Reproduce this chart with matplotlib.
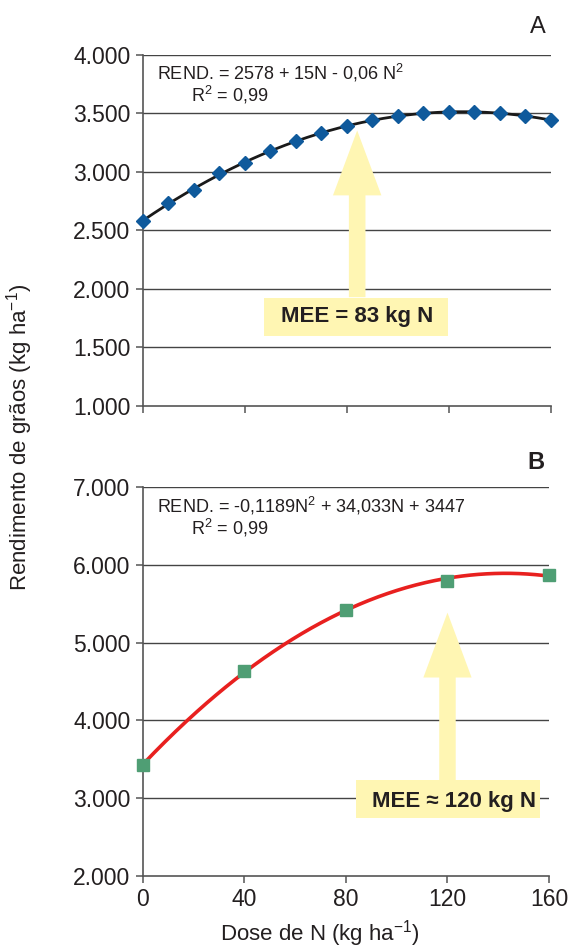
import numpy as np
import matplotlib
matplotlib.use("Agg")
import matplotlib.pyplot as plt
from matplotlib.patches import Polygon, Rectangle

plt.rcParams['font.family'] = ['Liberation Sans', 'DejaVu Sans']
plt.rcParams['mathtext.default'] = 'regular'

# panel A data (kg N / kg ha-1)
dose_a = [0, 10, 20, 30, 40, 50, 60, 70, 80, 90, 100, 110, 120, 130, 140, 150, 160]
rend_a = [2585, 2731, 2850, 2987, 3077, 3179, 3265, 3333, 3393, 3444, 3479, 3500, 3513, 3513, 3500, 3479, 3444]
# panel B data
dose_b = [0, 40, 80, 120, 160]
rend_b = [3423, 4641, 5423, 5795, 5870]
mee_a = 83
mee_b = 120
eq_a = "REND. = 2578 + 15N - 0,06 N$^{2}$"
eq_b = "REND. = -0,1189N$^{2}$ + 34,033N + 3447"
r2_txt = "R$^{2}$ = 0,99"
xticks = [0, 40, 80, 120, 160]

ink = '#231f20'
yellow = '#fff6b3'

fig = plt.figure(figsize=(5.69, 9.51), dpi=100)
ax1 = fig.add_axes([0.2513, 0.5731, 0.717, 0.3691])
ax2 = fig.add_axes([0.2513, 0.0789, 0.7135, 0.409])


def style(ax, ymin, ymax, step, labels):
    ax.set_xlim(0, 160)
    ax.set_ylim(ymin, ymax)
    yt = np.arange(ymin, ymax + 1, step)
    ax.set_yticks(yt)
    ax.set_yticklabels([f"{v:,}".replace(",", ".") for v in yt])
    ax.set_xticks(xticks)
    if labels:
        ax.set_xticklabels([str(v) for v in xticks])
    else:
        ax.set_xticklabels([])
    for s in ['top', 'right']:
        ax.spines[s].set_visible(False)
    for s in ['left', 'bottom']:
        ax.spines[s].set_color('#555555')
        ax.spines[s].set_linewidth(1.2)
    ax.tick_params(colors='#555555', labelcolor=ink, labelsize=16.5, length=5, width=1.1, pad=4)
    for v in yt[1:]:
        ax.axhline(v, color='#444444', lw=1.0, zorder=1)


def arrow(ax, x, tip, head_base, tail, head_w, shaft_w):
    pts = [(x - shaft_w / 2, tail), (x - shaft_w / 2, head_base), (x - head_w / 2, head_base),
           (x, tip), (x + head_w / 2, head_base), (x + shaft_w / 2, head_base), (x + shaft_w / 2, tail)]
    ax.add_patch(Polygon(pts, closed=True, facecolor=yellow, edgecolor='none', zorder=2))


# panel A
style(ax1, 1000, 4000, 500, False)
ca = np.polyfit(dose_a, rend_a, 2)
xx = np.linspace(0, 160, 300)
ax1.plot(xx, np.polyval(ca, xx), color='#1a1a1a', lw=2.0, zorder=3, clip_on=False)
ax1.plot(dose_a, rend_a, 'D', color='#0f5a9c', ms=7, zorder=4, clip_on=False)
arrow(ax1, mee_a + 1, 3355, 2800, 1930, 19, 6.5)
ax1.add_patch(Rectangle((47.5, 1600), 72, 327, facecolor=yellow, edgecolor='none', zorder=2))
ax1.text(mee_a + 1, 1765, "MEE = 83 kg N", ha='center', va='center', fontsize=16,
         fontweight='bold', color=ink, zorder=5)
ax1.text(5.5, 3850, eq_a, fontsize=13, color=ink, va='center')
ax1.text(19, 3660, r2_txt, fontsize=13, color=ink, va='center')
ax1.text(155, 4240, "A", fontsize=17, color=ink, ha='center', va='center')

# panel B
style(ax2, 2000, 7000, 1000, True)
cb = np.polyfit(dose_b, rend_b, 2)
ax2.plot(xx, np.polyval(cb, xx), color='#e8201f', lw=2.6, zorder=3, clip_on=False)
ax2.plot(dose_b, rend_b, 's', color='#4f9e74', ms=8, zorder=4, clip_on=False)
arrow(ax2, mee_b, 5385, 4551, 3230, 19, 6.5)
ax2.add_patch(Rectangle((84, 2744), 72.5, 486, facecolor=yellow, edgecolor='none', zorder=2))
ax2.text(122.5, 2960, "MEE \u2248 120 kg N", ha='center', va='center', fontsize=16,
         fontweight='bold', color=ink, zorder=5)
ax2.text(5.5, 6760, eq_b, fontsize=13, color=ink, va='center')
ax2.text(19, 6470, r2_txt, fontsize=13, color=ink, va='center')
ax2.text(155, 7310, "B", fontsize=17, fontweight='bold', color=ink, ha='center', va='center')

fig.text(20 / 569, 1 - 437 / 951, "Rendimento de grãos (kg ha$^{-1}$)", rotation=90,
         ha='center', va='center', fontsize=16, color=ink)
fig.text(320 / 569, 1 - 934 / 951, "Dose de N (kg ha$^{-1}$)", ha='center', va='center',
         fontsize=16, color=ink)

fig.savefig("out.png", dpi=100)
